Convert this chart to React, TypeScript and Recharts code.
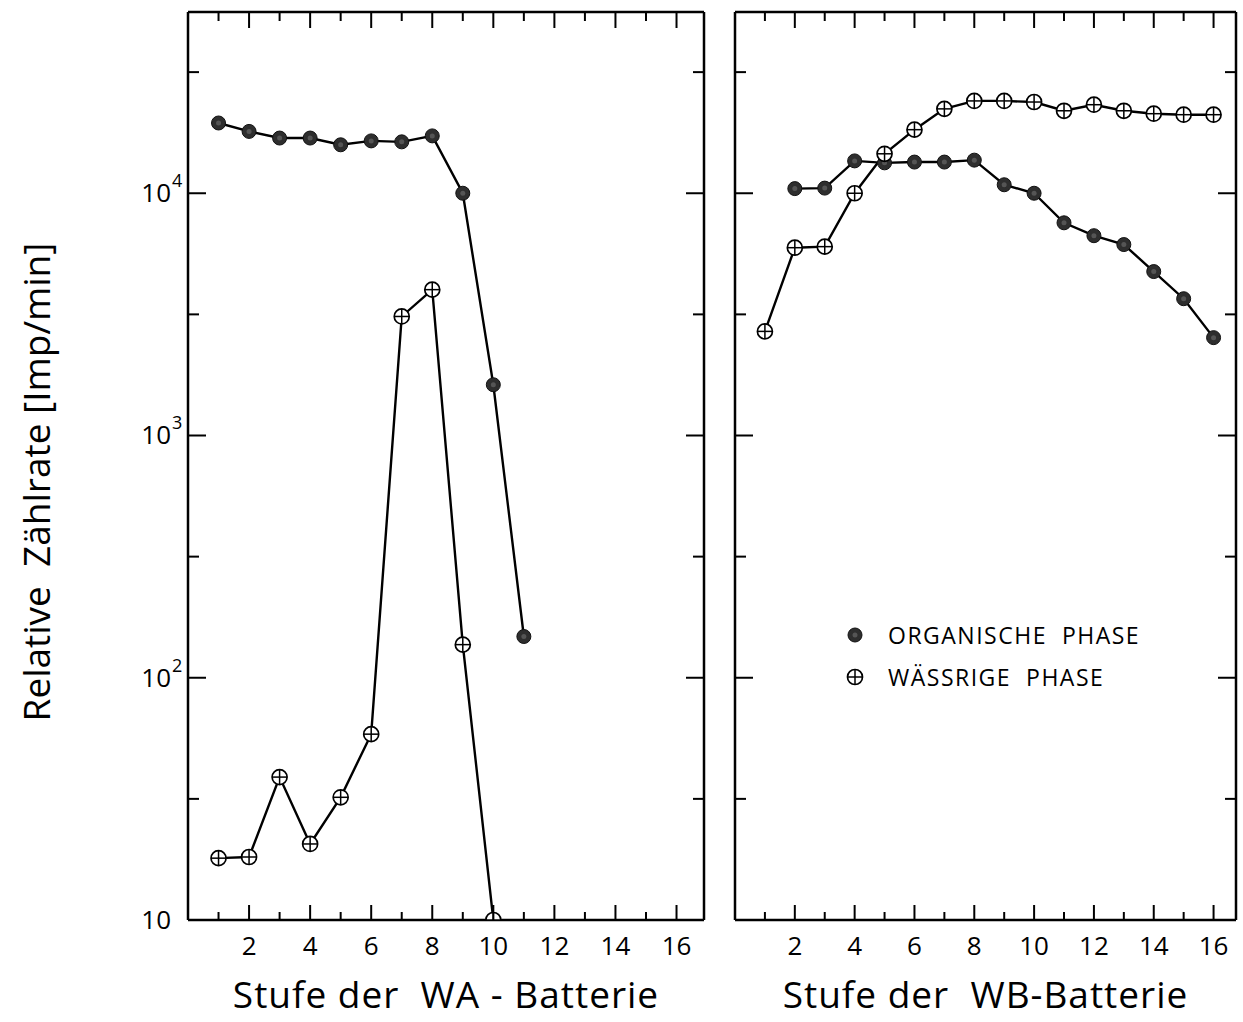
import React from "react";
import { LineChart, Line, XAxis, YAxis, Label, Legend } from "recharts";

// ---- data ----
const waStages = [1, 2, 3, 4, 5, 6, 7, 8, 9, 10, 11];
const waOrganic = [19500, 18000, 16900, 16900, 15850, 16450, 16300, 17250, 10000, 1620, 148];
const waAqueous = [18.0, 18.2, 38.9, 20.6, 32.1, 58.5, 3100, 4000, 137, 10, null];

const wbStages = [1, 2, 3, 4, 5, 6, 7, 8, 9, 10, 11, 12, 13, 14, 15, 16];
const wbOrganic = [null, 10450, 10500, 13600, 13350, 13450, 13450, 13700, 10840, 10000, 7550, 6680, 6140, 4750, 3670, 2535];
const wbAqueous = [2690, 5960, 6020, 10000, 14550, 18300, 22300, 24050, 24050, 23800, 21900, 23200, 21900, 21300, 21100, 21100];

const xTicks = [1, 2, 3, 4, 5, 6, 7, 8, 9, 10, 11, 12, 13, 14, 15, 16];
const yTicks = [10, 31.623, 100, 316.23, 1000, 3162.3, 10000, 31623];
const yDecadeExp: Record<string, string> = { "10": "", "100": "2", "1000": "3", "10000": "4" };

const yLabel = "Relative  Zählrate [Imp/min]";
const waTitle = "Stufe der  WA - Batterie";
const wbTitle = "Stufe der  WB-Batterie";
const legendOrg = "ORGANISCHE  PHASE";
const legendAq = "WÄSSRIGE  PHASE";

const FONT = "'Open Sans', 'DejaVu Sans', sans-serif";

const waData = waStages.map((s, i) => ({ stage: s, org: waOrganic[i], aq: waAqueous[i] }));
const wbData = wbStages.map((s, i) => ({ stage: s, org: wbOrganic[i], aq: wbAqueous[i] }));

const isDecade = (v: number) => Math.abs(Math.log10(v) - Math.round(Math.log10(v))) < 1e-3;

const OrgDot = (props: any) => {
  const { cx, cy, index } = props;
  if (cx == null || cy == null || isNaN(cy)) return <g key={`o${index}`} />;
  return (
    <g key={`o${index}`}>
      <circle cx={cx} cy={cy} r={7} fill="#2e2e2e" stroke="#111" strokeWidth={1} />
      <circle cx={cx} cy={cy} r={2.5} fill="#555" />
    </g>
  );
};

const AqDot = (props: any) => {
  const { cx, cy, index } = props;
  if (cx == null || cy == null || isNaN(cy)) return <g key={`a${index}`} />;
  return (
    <g key={`a${index}`}>
      <circle cx={cx} cy={cy} r={7.5} fill="#fff" stroke="#000" strokeWidth={1.7} />
      <line x1={cx - 7.5} x2={cx + 7.5} y1={cy} y2={cy} stroke="#000" strokeWidth={1.5} />
      <line x1={cx} x2={cx} y1={cy - 7.5} y2={cy + 7.5} stroke="#000" strokeWidth={1.5} />
    </g>
  );
};

const BottomTick = (props: any) => {
  const { x, y, payload } = props;
  const v = payload.value;
  const even = v % 2 === 0;
  return (
    <g>
      <line x1={x} x2={x} y1={y} y2={y - (even ? 15 : 8)} stroke="#000" strokeWidth={2} />
      {even && (
        <text x={x} y={y + 35} textAnchor="middle" fontSize={26} fontFamily={FONT} fill="#000">
          {v}
        </text>
      )}
    </g>
  );
};

const TopTick = (props: any) => {
  const { x, y, payload } = props;
  const even = payload.value % 2 === 0;
  return <line x1={x} x2={x} y1={y} y2={y + (even ? 16 : 9)} stroke="#000" strokeWidth={2} />;
};

const makeLeftYTick = (labels: boolean) => (props: any) => {
  const { x, y, payload } = props;
  const v = payload.value;
  const dec = isDecade(v);
  const exp = yDecadeExp[String(Math.round(v))];
  return (
    <g>
      <line x1={x} x2={x + (dec ? 18 : 11)} y1={y} y2={y} stroke="#000" strokeWidth={2} />
      {labels && dec && (
        <g>
          <text x={x - 17} y={y + 9} textAnchor="end" fontSize={26} fontFamily={FONT} fill="#000">
            10
          </text>
          {exp && (
            <text x={x - 16} y={y - 6} textAnchor="start" fontSize={18} fontFamily={FONT} fill="#000">
              {exp}
            </text>
          )}
        </g>
      )}
    </g>
  );
};

const RightYTick = (props: any) => {
  const { x, y, payload } = props;
  const dec = isDecade(payload.value);
  return <line x1={x} x2={x - (dec ? 18 : 11)} y1={y} y2={y} stroke="#000" strokeWidth={2} />;
};

const LegendContent = () => (
  <div style={{ fontFamily: FONT, fontSize: 23, color: "#000", whiteSpace: "pre", lineHeight: "42px" }}>
    <div style={{ display: "flex", alignItems: "center" }}>
      <svg width={20} height={20} style={{ marginRight: 23 }}>
        <OrgDot cx={10} cy={10} index={0} />
      </svg>
      <span style={{ letterSpacing: 1.5 }}>{legendOrg}</span>
    </div>
    <div style={{ display: "flex", alignItems: "center" }}>
      <svg width={20} height={20} style={{ marginRight: 23 }}>
        <AqDot cx={10} cy={10} index={0} />
      </svg>
      <span style={{ letterSpacing: 1.5 }}>{legendAq}</span>
    </div>
  </div>
);

type PanelProps = {
  data: any[];
  width: number;
  leftW: number;
  rightW: number;
  xMax: number;
  title: string;
  showYLabels: boolean;
  showLegend?: boolean;
};

const Panel = ({ data, width, leftW, rightW, xMax, title, showYLabels, showLegend }: PanelProps) => (
  <LineChart width={width} height={1022} data={data} margin={{ top: 0, right: 0, bottom: 0, left: 0 }}>
    <XAxis
      xAxisId="bottom"
      dataKey="stage"
      type="number"
      domain={[0, xMax]}
      allowDataOverflow
      ticks={xTicks}
      interval={0}
      orientation="bottom"
      height={102}
      tickSize={0}
      tickMargin={0}
      tickLine={false}
      tick={<BottomTick />}
      axisLine={{ stroke: "#000", strokeWidth: 2.5 }}
    >
      <Label
        content={(p: any) => {
          const vb = p.viewBox || {};
          return (
            <text
              x={vb.x + vb.width / 2}
              y={1008}
              textAnchor="middle"
              fontSize={37}
              fontFamily={FONT}
              fill="#000"
              letterSpacing={1}
              style={{ whiteSpace: "pre" }}
            >
              {title}
            </text>
          );
        }}
      />
    </XAxis>
    <XAxis
      xAxisId="top"
      dataKey="stage"
      type="number"
      domain={[0, xMax]}
      allowDataOverflow
      ticks={xTicks}
      interval={0}
      orientation="top"
      height={12}
      tickSize={0}
      tickMargin={0}
      tickLine={false}
      tick={<TopTick />}
      axisLine={{ stroke: "#000", strokeWidth: 2.5 }}
    />
    <YAxis
      yAxisId="left"
      scale="log"
      type="number"
      domain={[10, 56000]}
      allowDataOverflow
      ticks={yTicks}
      interval={0}
      width={leftW}
      tickSize={0}
      tickMargin={0}
      tickLine={false}
      tick={makeLeftYTick(showYLabels)}
      axisLine={{ stroke: "#000", strokeWidth: 2.5 }}
    >
      {showYLabels && (
        <Label
          content={(p: any) => {
            const vb = p.viewBox || {};
            const cy = vb.y + vb.height / 2 + 16;
            return (
              <text
                transform={`translate(50, ${cy}) rotate(-90)`}
                textAnchor="middle"
                fontSize={37}
                fontFamily={FONT}
                fill="#000"
                style={{ whiteSpace: "pre" }}
              >
                {yLabel}
              </text>
            );
          }}
        />
      )}
    </YAxis>
    <YAxis
      yAxisId="right"
      orientation="right"
      scale="log"
      type="number"
      domain={[10, 56000]}
      allowDataOverflow
      ticks={yTicks}
      interval={0}
      width={rightW}
      tickSize={0}
      tickMargin={0}
      tickLine={false}
      tick={<RightYTick />}
      axisLine={{ stroke: "#000", strokeWidth: 2.5 }}
    />
    <Line
      xAxisId="bottom"
      yAxisId="left"
      dataKey="org"
      type="linear"
      stroke="#000"
      strokeWidth={2.4}
      dot={<OrgDot />}
      isAnimationActive={false}
      connectNulls={false}
    />
    <Line
      xAxisId="bottom"
      yAxisId="left"
      dataKey="aq"
      type="linear"
      stroke="#000"
      strokeWidth={2.4}
      dot={<AqDot />}
      isAnimationActive={false}
      connectNulls={false}
    />
    {showLegend && (
      <Legend
        layout="horizontal"
        align="center"
        verticalAlign="middle"
        content={<LegendContent />}
        wrapperStyle={{ position: "absolute", left: 125, top: 614, width: 320, height: 90 }}
      />
    )}
  </LineChart>
);

export default function App() {
  return (
    <div style={{ position: "absolute", left: 0, top: 0, width: 1243, height: 1022, background: "#fff" }}>
      <div style={{ position: "absolute", left: 0, top: 0 }}>
        <Panel data={waData} width={720} leftW={188} rightW={16} xMax={16.9} title={waTitle} showYLabels />
      </div>
      <div style={{ position: "absolute", left: 720, top: 0 }}>
        <Panel
          data={wbData}
          width={523}
          leftW={15}
          rightW={7}
          xMax={16.75}
          title={wbTitle}
          showYLabels={false}
          showLegend
        />
      </div>
    </div>
  );
}
